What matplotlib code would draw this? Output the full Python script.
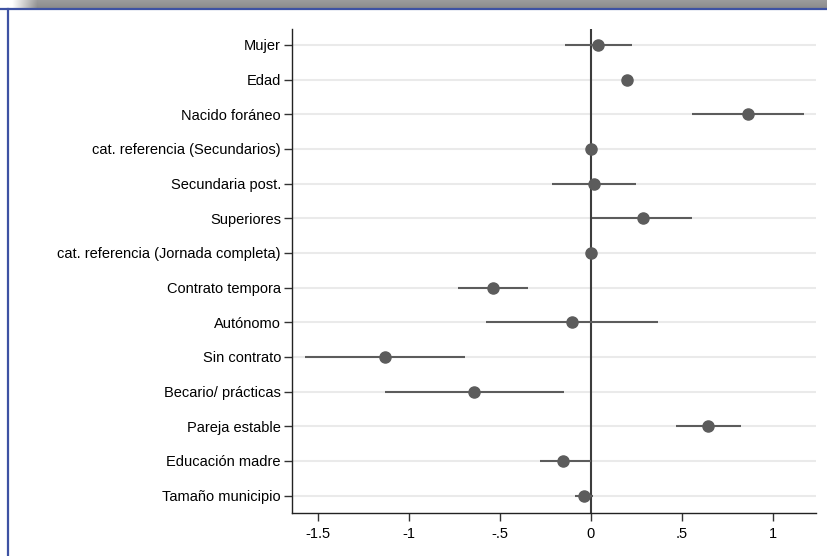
import matplotlib
matplotlib.use("Agg")
import matplotlib.pyplot as plt
import numpy as np

plt.rcParams['font.family'] = ['Liberation Sans', 'DejaVu Sans']

# coeficientes e intervalos de confianza
labels = ["Mujer", "Edad", "Nacido foráneo", "cat. referencia (Secundarios)",
          "Secundaria post.", "Superiores", "cat. referencia (Jornada completa)",
          "Contrato tempora", "Autónomo", "Sin contrato", "Becario/ prácticas",
          "Pareja estable", "Educación madre", "Tamaño municipio"]
coef = [0.042, 0.20, 0.863, 0.0, 0.02, 0.29, 0.0,
        -0.537, -0.10, -1.13, -0.64, 0.645, -0.15, -0.037]
ci_lo = [-0.14, 0.19, 0.558, 0.0, -0.21, 0.01, 0.0,
         -0.73, -0.575, -1.57, -1.13, 0.47, -0.28, -0.086]
ci_hi = [0.225, 0.21, 1.17, 0.0, 0.25, 0.555, 0.0,
         -0.345, 0.37, -0.69, -0.147, 0.826, 0.0, 0.014]
xticks = [-1.5, -1, -0.5, 0, 0.5, 1]
xticklabels = ["-1.5", "-1", "-.5", "0", ".5", "1"]

fig = plt.figure(figsize=(8.27, 5.56), dpi=100)
fig.patch.set_facecolor("white")

# barra gris superior con degradado
bar = fig.add_axes([0, 1 - 8.5 / 556, 1, 8.5 / 556])
grad = np.ones((20, 827))
fade = np.clip((np.arange(827) - 12) / 25.0, 0, 1)
vert = np.linspace(0.62, 0.55, 20)[:, None]
grad = 1 - (1 - vert) * fade[None, :]
bar.imshow(grad, cmap="gray", vmin=0, vmax=1, aspect="auto", extent=[0, 1, 0, 1])
bar.set_axis_off()

# marco azul
fig.add_artist(plt.Line2D([0, 1], [1 - 9 / 556, 1 - 9 / 556], color="#3e52a3", lw=1.6,
                          transform=fig.transFigure))
fig.add_artist(plt.Line2D([7.5 / 827, 7.5 / 827], [0, 1 - 9 / 556], color="#3e52a3", lw=1.6,
                          transform=fig.transFigure))

ax = fig.add_axes([292 / 827, 1 - 513 / 556, (816 - 292) / 827, (513 - 29) / 556])
y = np.arange(1, len(labels) + 1)

for yi in y:
    ax.axhline(yi, color="#eaeaea", lw=1.5, zorder=0)
ax.axvline(0, color="#3c3c3c", lw=1.5, zorder=1)

ax.hlines(y, ci_lo, ci_hi, color="#5c5c5c", lw=1.5, zorder=2)
ax.plot(coef, y, "o", color="#5c5c5c", ms=8, zorder=3)

ax.set_ylim(len(labels) + 0.5, 0.54)
ax.set_xlim(-1.641, 1.238)
ax.set_yticks(y)
ax.set_yticklabels(labels)
ax.set_xticks(xticks)
ax.set_xticklabels(xticklabels)
ax.tick_params(axis="both", labelsize=10.5, length=6, width=1, color="#333333")
ax.tick_params(axis="x", pad=4)
ax.tick_params(axis="y", pad=2)

for s in ["top", "right"]:
    ax.spines[s].set_visible(False)
for s in ["left", "bottom"]:
    ax.spines[s].set_color("#222222")
    ax.spines[s].set_linewidth(1)

fig.savefig("out.png", dpi=100)
